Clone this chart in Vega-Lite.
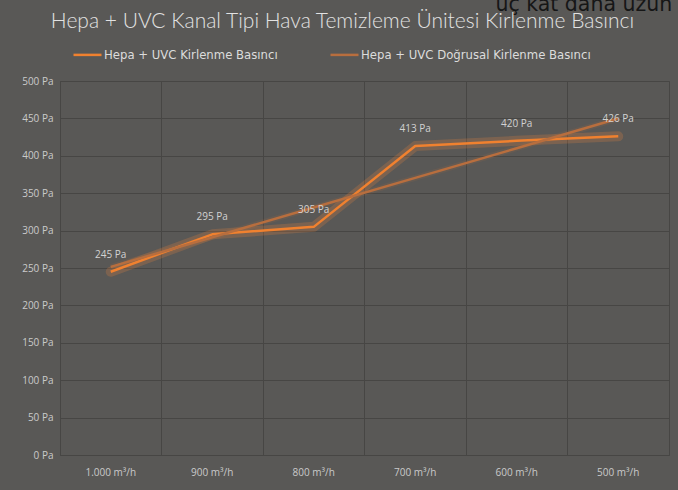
{
  "$schema": "https://vega.github.io/schema/vega-lite/v6.json",
  "width": 609,
  "height": 374,
  "autosize": {"type": "none"},
  "padding": {"left": 60, "top": 81, "right": 9, "bottom": 35},
  "background": "#595856",
  "title": {
    "text": "Hepa + UVC Kanal Tipi Hava Temizleme Ünitesi Kirlenme Basıncı",
    "font": "Lato",
    "fontSize": 21,
    "fontWeight": 300,
    "color": "#e2e2e2",
    "anchor": "middle",
    "frame": "group",
    "dx": -22,
    "offset": -37
  },
  "config": {
    "view": {"stroke": "#474644", "strokeWidth": 1},
    "font": "Open Sans",
    "axis": {"labelFont": "Open Sans", "labelFontSize": 10, "labelColor": "#cacaca", "domain": false, "ticks": false, "gridColor": "#474644", "gridWidth": 1, "title": null}
  },
  "datasets": {
    "main": [
      {"flow": "1.000 m³/h", "series": "Hepa + UVC Kirlenme Basıncı", "pa": 245, "label": "245 Pa"},
      {"flow": "900 m³/h", "series": "Hepa + UVC Kirlenme Basıncı", "pa": 295, "label": "295 Pa"},
      {"flow": "800 m³/h", "series": "Hepa + UVC Kirlenme Basıncı", "pa": 305, "label": "305 Pa"},
      {"flow": "700 m³/h", "series": "Hepa + UVC Kirlenme Basıncı", "pa": 413, "label": "413 Pa"},
      {"flow": "600 m³/h", "series": "Hepa + UVC Kirlenme Basıncı", "pa": 420, "label": "420 Pa"},
      {"flow": "500 m³/h", "series": "Hepa + UVC Kirlenme Basıncı", "pa": 426, "label": "426 Pa"},
      {"flow": "1.000 m³/h", "series": "Hepa + UVC Doğrusal Kirlenme Basıncı", "pa": 251.5},
      {"flow": "900 m³/h", "series": "Hepa + UVC Doğrusal Kirlenme Basıncı", "pa": 291.2},
      {"flow": "800 m³/h", "series": "Hepa + UVC Doğrusal Kirlenme Basıncı", "pa": 330.8},
      {"flow": "700 m³/h", "series": "Hepa + UVC Doğrusal Kirlenme Basıncı", "pa": 370.5},
      {"flow": "600 m³/h", "series": "Hepa + UVC Doğrusal Kirlenme Basıncı", "pa": 410.1},
      {"flow": "500 m³/h", "series": "Hepa + UVC Doğrusal Kirlenme Basıncı", "pa": 449.8}
    ],
    "note": [
      {"flow": "500 m³/h", "pa": 594, "note": "üç kat daha uzun"}
    ]
  },
  "data": {"name": "main"},
  "encoding": {
    "x": {
      "field": "flow", "type": "nominal", "sort": null,
      "scale": {"type": "band", "paddingInner": 0, "paddingOuter": 0},
      "axis": {"labelAngle": 0, "grid": true, "bandPosition": 0, "labelPadding": 12}
    },
    "y": {
      "field": "pa", "type": "quantitative",
      "scale": {"domain": [0, 500], "nice": false},
      "axis": {"values": [0, 50, 100, 150, 200, 250, 300, 350, 400, 450, 500], "labelExpr": "datum.value + ' Pa'", "labelPadding": 7}
    }
  },
  "layer": [
    {
      "transform": [{"filter": "datum.series === 'Hepa + UVC Kirlenme Basıncı'"}],
      "mark": {"type": "line", "color": "#F5883A", "strokeWidth": 10, "opacity": 0.22, "strokeJoin": "round", "strokeCap": "round"}
    },
    {
      "transform": [{"filter": "datum.series === 'Hepa + UVC Doğrusal Kirlenme Basıncı'"}],
      "mark": {"type": "line", "color": "#ED7D31", "strokeWidth": 6, "opacity": 0.08}
    },
    {
      "mark": {"type": "line", "strokeWidth": 2.5, "strokeJoin": "round"},
      "encoding": {
        "color": {
          "field": "series", "type": "nominal",
          "scale": {"domain": ["Hepa + UVC Kirlenme Basıncı", "Hepa + UVC Doğrusal Kirlenme Basıncı"], "range": ["#F0812F", "#B86E3E"]},
          "legend": {
            "orient": "none", "legendX": 12, "legendY": -42, "direction": "horizontal", "title": null,
            "symbolType": "stroke", "symbolStrokeWidth": 2.5, "symbolSize": 784,
            "labelFont": "DejaVu Sans", "labelFontSize": 11.7, "labelColor": "#dcdcdc", "columnPadding": 47, "labelOffset": 1, "labelLimit": 400
          }
        }
      }
    },
    {
      "transform": [{"filter": "datum.series === 'Hepa + UVC Kirlenme Basıncı'"}],
      "mark": {"type": "text", "dy": -17, "fontSize": 10, "color": "#d2d2d2", "font": "Open Sans"},
      "encoding": {"text": {"field": "label", "type": "nominal"}}
    },
    {
      "data": {"name": "note"},
      "mark": {"type": "text", "align": "right", "baseline": "alphabetic", "fontSize": 20.5, "font": "DejaVu Sans", "color": "#161616", "dx": 54},
      "encoding": {
        "text": {"field": "note", "type": "nominal"}
      }
    }
  ]
}
